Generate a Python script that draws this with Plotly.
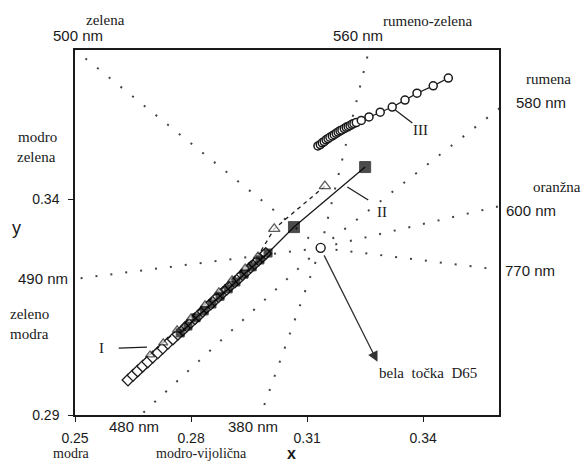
import plotly.graph_objects as go

# ---------------- data ----------------
# series I : open diamonds
series_I_x = [0.2637, 0.2650, 0.2662, 0.2675, 0.2688, 0.2701, 0.2714, 0.2727, 0.2740, 0.2753,
              0.2766, 0.2779, 0.2789, 0.2799, 0.2810, 0.2820, 0.2830, 0.2840, 0.2851, 0.2861,
              0.2871, 0.2882, 0.2892, 0.2902, 0.2913, 0.2923, 0.2933, 0.2944, 0.2954, 0.2964,
              0.2975, 0.2985, 0.2993]
series_I_y = [0.2981, 0.2992, 0.3002, 0.3013, 0.3023, 0.3034, 0.3044, 0.3055, 0.3066, 0.3076,
              0.3087, 0.3097, 0.3106, 0.3114, 0.3123, 0.3131, 0.3140, 0.3149, 0.3157, 0.3166,
              0.3174, 0.3183, 0.3191, 0.3200, 0.3208, 0.3216, 0.3225, 0.3233, 0.3242, 0.3250,
              0.3259, 0.3267, 0.3274]

# series II : filled squares, solid line
series_II_x = [0.3250, 0.3066, 0.2999, 0.2978, 0.2958, 0.2937, 0.2916, 0.2896, 0.2875, 0.2854,
               0.2834, 0.2813, 0.2792, 0.2772]
series_II_y = [0.3474, 0.3335, 0.3275, 0.3259, 0.3243, 0.3226, 0.3208, 0.3192, 0.3175, 0.3157,
               0.3141, 0.3125, 0.3106, 0.3090]

# triangles, dashed line
tri_x = [0.3146, 0.3015, 0.2973, 0.2940, 0.2906, 0.2872, 0.2836, 0.2800, 0.2764, 0.2728, 0.2694]
tri_y = [0.3430, 0.3331, 0.3268, 0.3240, 0.3213, 0.3185, 0.3155, 0.3125, 0.3097, 0.3067, 0.3039]

# series III : open circles
series_III_x = [0.3128, 0.3134, 0.3139, 0.3144, 0.3149, 0.3154, 0.3159, 0.3165, 0.3170, 0.3175,
                0.3180, 0.3185, 0.3190, 0.3196, 0.3201, 0.3206, 0.3211, 0.3216, 0.3221, 0.3227,
                0.3240, 0.3260, 0.3289, 0.3320, 0.3353, 0.3384, 0.3426, 0.3465]
series_III_y = [0.3523, 0.3526, 0.3530, 0.3533, 0.3537, 0.3540, 0.3543, 0.3546, 0.3549, 0.3552,
                0.3555, 0.3558, 0.3560, 0.3563, 0.3566, 0.3568, 0.3570, 0.3573, 0.3575, 0.3577,
                0.3582, 0.3590, 0.3601, 0.3613, 0.3629, 0.3645, 0.3662, 0.3680]

# white point D65
white_x = 0.3135
white_y = 0.3287

# dominant-wavelength lines (end points where they leave the frame)
wl_labels = ["500 nm", "560 nm", "580 nm", "600 nm", "770 nm", "490 nm", "480 nm", "380 nm"]
wl_end_x = [0.2500, 0.3260, 0.3600, 0.3600, 0.3600, 0.2500, 0.2670, 0.2980]
wl_end_y = [0.3745, 0.3745, 0.3612, 0.3384, 0.3236, 0.3215, 0.2900, 0.2900]

x_ticks = [0.25, 0.28, 0.31, 0.34]
y_ticks = [0.29, 0.34]
x_range = [0.25, 0.3596]
y_range = [0.29, 0.3745]

# ---------------- figure ----------------
SANS = "Liberation Sans, Arial, sans-serif"
SERIF = "Liberation Serif, Times New Roman, serif"
INK = "#1a1a1a"

W, H = 586, 465
L, R, T, B = 75, 87, 50, 50

fig = go.Figure()

for ex, ey in zip(wl_end_x, wl_end_y):
    fig.add_trace(go.Scatter(
        x=[white_x, ex], y=[white_y, ey], mode="lines",
        line=dict(color="#444", width=2, dash="2px,13px"),
        hoverinfo="skip", showlegend=False))

fig.add_trace(go.Scatter(
    x=series_I_x, y=series_I_y, mode="markers",
    marker=dict(symbol="diamond", size=9, color="white", line=dict(color=INK, width=1.3)),
    showlegend=False))

fig.add_trace(go.Scatter(
    x=tri_x, y=tri_y, mode="lines+markers",
    line=dict(color=INK, width=1.3, dash="4px,4px"),
    marker=dict(symbol="triangle-up", size=[10, 10] + [8] * (len(tri_x) - 2), color="white",
                line=dict(color=INK, width=1.3)),
    showlegend=False))

fig.add_trace(go.Scatter(
    x=series_II_x, y=series_II_y, mode="lines+markers",
    line=dict(color=INK, width=1.3),
    marker=dict(symbol="square", size=[11, 11] + [8] * (len(series_II_x) - 2),
                color="black", line=dict(color="black", width=1)),
    showlegend=False))

fig.add_trace(go.Scatter(
    x=series_III_x, y=series_III_y, mode="lines+markers",
    line=dict(color=INK, width=1.2),
    marker=dict(symbol="circle", size=8, color="white", line=dict(color=INK, width=1.5)),
    showlegend=False))

fig.add_trace(go.Scatter(
    x=[white_x], y=[white_y], mode="markers",
    marker=dict(symbol="circle", size=9, color="white", line=dict(color=INK, width=1.4)),
    showlegend=False))

# arrow to "bela točka D65"
fig.add_annotation(x=0.3282, y=0.3023, ax=0.3142, ay=0.3273, xref="x", yref="y",
                   axref="x", ayref="y", text="", showarrow=True, arrowhead=2,
                   arrowsize=1.6, arrowwidth=1.3, arrowcolor="#333", standoff=0, startstandoff=0)

# pointer lines for I, II, III
for (x0, y0, x1, y1) in [(0.2613, 0.3055, 0.2686, 0.3057),
                         (0.3204, 0.3428, 0.3258, 0.3398),
                         (0.3328, 0.3606, 0.3372, 0.3576)]:
    fig.add_shape(type="line", x0=x0, y0=y0, x1=x1, y1=y1, xref="x", yref="y",
                  line=dict(color=INK, width=1.2))


def pp(px, py):
    return (px - L) / (W - L - R), (H - B - py) / (H - T - B)


def label(text, px, py, family, size, xanchor="center", bold=False):
    x, y = pp(px, py)
    fig.add_annotation(x=x, y=y, xref="paper", yref="paper",
                       text=("<b>%s</b>" % text) if bold else text,
                       showarrow=False, xanchor=xanchor, yanchor="middle",
                       font=dict(family=family, size=size, color=INK))


wl_pos = {"500 nm": (78, 36), "560 nm": (358, 36), "580 nm": (541, 103), "600 nm": (531, 210),
          "770 nm": (530, 270), "490 nm": (43, 278), "480 nm": (134, 426), "380 nm": (253, 426)}
for t in wl_labels:
    label(t, *wl_pos[t], SANS, 15)

for t, px, py in [("zelena", 105, 20), ("rumeno-zelena", 427, 21), ("rumena", 548, 79),
                  ("oranžna", 557, 187), ("modro", 37, 137), ("zelena", 36, 157),
                  ("zeleno", 29, 314), ("modra", 29, 334), ("I", 101, 348), ("II", 382, 212),
                  ("III", 420, 130)]:
    label(t, px, py, SERIF, 15)

for t, px, py in [("modra", 71, 454), ("modro-vijolična", 201, 454)]:
    label(t, px, py, SERIF, 14)

label("bela  točka  D65", 377, 373, SERIF, 15, xanchor="left")
label("y", 16, 228, SANS, 18)
label("x", 291, 453, SANS, 16, bold=True)

axis_common = dict(showgrid=False, zeroline=False, showline=True, mirror=True,
                   linecolor=INK, linewidth=1.5, ticks="outside", ticklen=5, tickwidth=1.2,
                   tickcolor=INK, tickfont=dict(family=SANS, size=14, color=INK))

fig.update_layout(
    width=W, height=H, margin=dict(l=L, r=R, t=T, b=B),
    paper_bgcolor="white", plot_bgcolor="white", showlegend=False,
    xaxis=dict(range=x_range, tickvals=x_ticks, ticktext=["%.2f" % v for v in x_ticks],
               ticklabelstandoff=4, **axis_common),
    yaxis=dict(range=y_range, tickvals=y_ticks, ticktext=["%.2f" % v for v in y_ticks],
               ticklabelstandoff=6, **axis_common),
)

fig.write_html("out.html")
